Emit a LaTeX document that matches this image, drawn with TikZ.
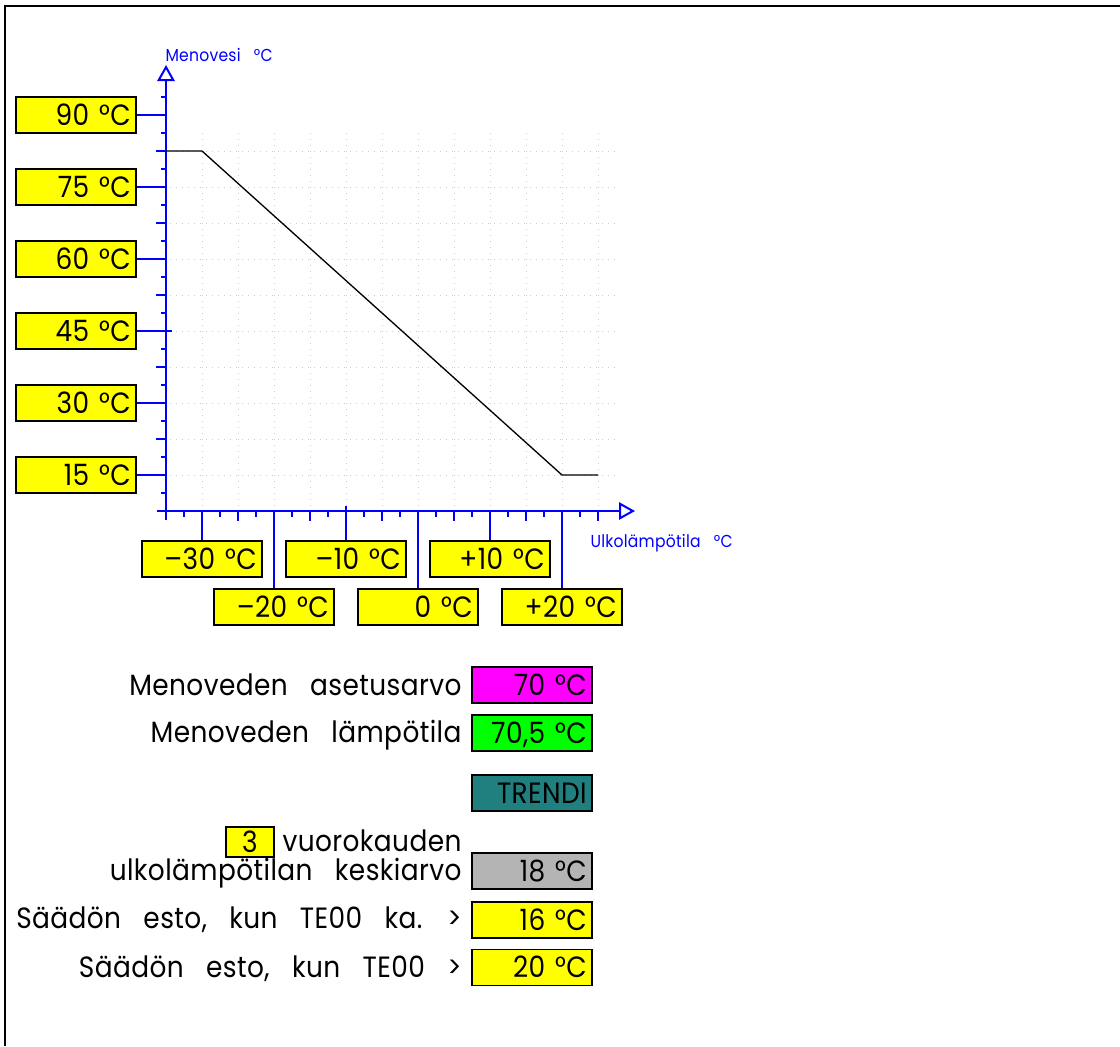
\documentclass[tikz,border=0pt]{standalone}
\usepackage{fontspec}
\setmainfont{Poppins}[WordSpace=3, FakeStretch=0.9, LetterSpace=1.4]
\usetikzlibrary{arrows.meta}

\definecolor{axisblue}{RGB}{0,0,255}
\definecolor{boxyellow}{RGB}{255,255,0}
\definecolor{setmagenta}{RGB}{255,0,255}
\definecolor{measgreen}{RGB}{0,255,0}
\definecolor{trendteal}{RGB}{32,128,128}
\definecolor{avggray}{RGB}{180,180,180}
\definecolor{gridgray}{RGB}{205,205,205}

\tikzset{every picture/.style={line width=0.75pt}}
\tikzset{
  txt/.style={font=\fontsize{22}{24}\selectfont},
  valbox/.style={txt, draw, line width=1.2pt, fill=boxyellow, minimum width=90pt,
    minimum height=27pt, text width=82pt, align=right, inner xsep=4pt, inner ysep=0pt,
    text height=15.5pt, text depth=0pt},
  lbl/.style={txt, anchor=base east, inner sep=0pt},
  axislabel/.style={font=\fontsize{13}{15}\selectfont, text=axisblue, anchor=base west, inner sep=0pt},
  axisline/.style={draw=axisblue, line width=1.5pt},
  gridline/.style={draw=gridgray, line width=0.75pt, dash pattern={on 0.75pt off 3.75pt}},
}

\begin{document}
\begin{tikzpicture}[x=0.75pt,y=0.75pt,yscale=-1,xscale=1]
\useasboundingbox (0,0) rectangle (1120,1046);

%Frame
\draw [line width=1.5pt] (5,1046) -- (5,6) -- (1120,6) ;

%Grid
\foreach \x in {202,238,...,598}
  \draw [gridline] (\x,133) -- (\x,511) ;
\foreach \y in {151,187,...,475}
  \draw [gridline] (170,\y) -- (618,\y) ;

%Axes
\coordinate (O) at (166,511) ;
\draw [axisline, -{Triangle[open, length=12pt, width=13pt]}] (166,520) -- (166,65) ;
\draw [axisline, -{Triangle[open, length=12pt, width=13pt]}] (157,511) -- (635,511) ;

%Ticks
\foreach \y in {97,133,...,493}
  \draw [axisline] (161,\y) -- (166,\y) ;
\foreach \y in {151,223,...,439}
  \draw [axisline] (156,\y) -- (166,\y) ;
\foreach \x in {184,220,...,580}
  \draw [axisline] (\x,511) -- (\x,517) ;
\foreach \x in {238,310,...,598}
  \draw [axisline] (\x,511) -- (\x,521) ;
\draw [axisline] (166,331) -- (172,331) ;
\draw [axisline] (346,511) -- (346,506) ;

%Curve
\draw [line width=1pt] (166,151) -- (202,151) -- (562,475) -- (598,475) ;

%Y labels
\foreach \v/\y in {90/115,75/187,60/259,45/331,30/403,15/475} {
  \node [valbox] (y\v) at (76,\y) {\v\ °C};
  \coordinate (ya\v) at (166,\y) ;
  \draw [axisline] (y\v.east) -- (ya\v) ;
}

%X labels
\foreach \t/\x/\y [count=\i] in {–30/202/559,–20/274/607,–10/346/559,0/418/607,+10/490/559,+20/562/607} {
  \node [valbox] (x\i) at (\x,\y) {\t\ °C};
  \coordinate (xa\i) at (\x,511) ;
  \draw [axisline] (x\i.north) -- (xa\i) ;
}

% Text Node
\node [axislabel] (ylabel) at (165,61.5) {Menovesi °C};
% Text Node
\node [axislabel] (xlabel) at (590,547.5) {Ulkolämpötila °C};

%Values
\node [valbox, fill=setmagenta] (setp) at (532,685) {70 °C};
\node [lbl] (setptxt) at (462,695) {Menoveden asetusarvo};
\node [valbox, fill=measgreen] (meas) at (532,733) {70,5 °C};
\node [lbl] (meastxt) at (462,742.5) {Menoveden lämpötila};
\node [valbox, fill=trendteal] (trend) at (532,793) {TRENDI};
\node [lbl] (daystxt) at (462,851) {vuorokauden};
\node [valbox, minimum width=36pt, minimum height=22.5pt, text width=28pt, align=center] (days) at (250,842) {3};
\node [valbox, fill=avggray] (avg) at (532,871) {18 °C};
\node [lbl] (avgtxt) at (462,880) {ulkolämpötilan keskiarvo};
\node [valbox] (limavg) at (532,920) {16 °C};
\node [lbl] (limavgtxt) at (462,928.5) {Säädön esto, kun TE00 ka. >};
\node [valbox] (lim) at (532,967.5) {20 °C};
\node [lbl] (limtxt) at (462,977) {Säädön esto, kun TE00 >};

\end{tikzpicture}
\end{document}
